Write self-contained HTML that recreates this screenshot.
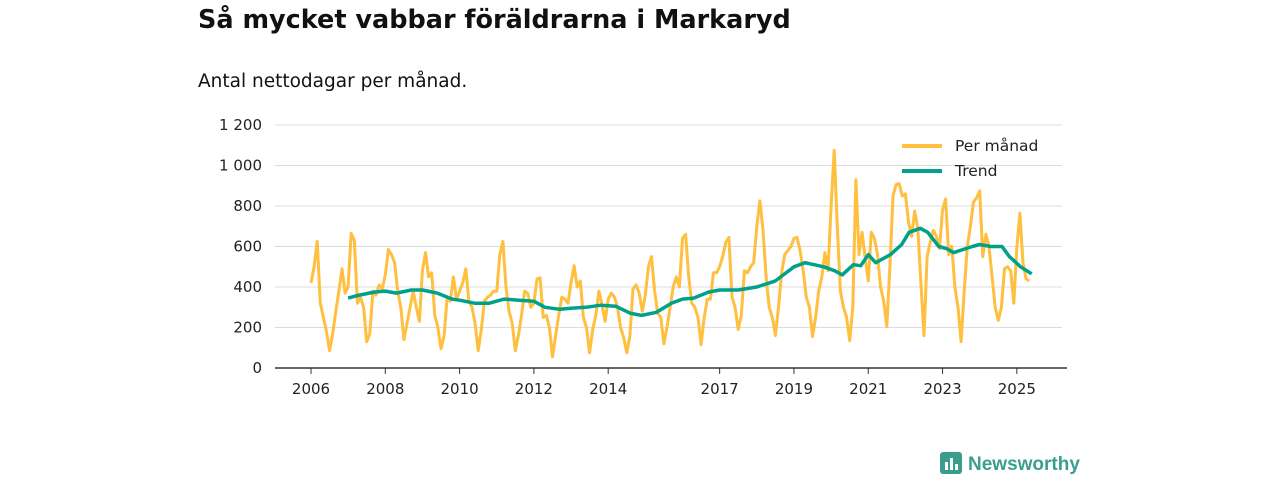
<!DOCTYPE html>
<html><head><meta charset="utf-8"><style>
body{margin:0;background:#fff;font-family:"DejaVu Sans","Liberation Sans",sans-serif;}
#wrap{position:relative;width:1280px;height:480px;overflow:hidden;}
h1{position:absolute;left:198px;top:5px;margin:0;font-size:25.5px;font-weight:bold;color:#111;}
p.sub{position:absolute;left:198px;top:71px;margin:0;font-size:18.5px;color:#111;}
svg text{font-family:"DejaVu Sans","Liberation Sans",sans-serif;}
</style></head><body>
<div id="wrap">
<h1>Så mycket vabbar föräldrarna i Markaryd</h1>
<p class="sub">Antal nettodagar per månad.</p>
<svg id="chart" width="1280" height="480" style="position:absolute;left:0;top:0"></svg>
</div>
<script>
const yTicks=[0,200,400,600,800,1000,1200];
const yTickLabels=["0","200","400","600","800","1 000","1 200"];
const xTickYears=[2006,2008,2010,2012,2014,2017,2019,2021,2023,2025];
const monthly2006=[420,500,625,320,250,180,85,170,280,380,490,370];
const monthly2007=[400,665,630,320,350,300,130,170,380,360,410,390];
const monthly2008=[460,585,560,520,380,300,140,220,300,380,300,230];
const monthly2009=[480,570,450,470,260,200,95,160,350,330,450,340];
const monthly2010=[380,420,490,330,300,220,85,190,330,350,360,380];
const monthly2011=[380,560,625,400,280,220,85,160,260,380,370,300];
const monthly2012=[320,440,445,250,260,200,55,160,260,350,340,320];
const monthly2013=[420,505,400,430,250,200,75,190,260,380,310,230];
const monthly2014=[340,370,350,300,200,150,75,160,390,410,370,280];
const monthly2015=[360,500,550,380,270,250,120,200,300,400,450,400];
const monthly2016=[640,660,450,320,300,250,115,250,340,340,470,470];
const monthly2017=[500,550,620,645,350,300,190,260,480,470,500,520];
const monthly2018=[700,825,680,450,300,250,160,300,470,560,580,600];
const monthly2019=[640,645,580,480,350,300,155,250,380,450,570,480];
const monthly2020=[800,1075,700,380,300,250,135,300,930,560,670,540];
const monthly2021=[430,670,640,560,400,330,205,500,850,905,910,850];
const monthly2022=[860,720,650,775,690,420,160,550,620,680,650,590];
const monthly2023=[780,835,560,600,400,300,130,380,600,700,820,840];
const monthly2024=[875,550,660,600,450,300,235,300,490,500,480,320];
const monthly2025=[600,765,520,440,430];
const trendDates=[2007.0,2007.3,2007.7,2008.0,2008.3,2008.7,2009.0,2009.4,2009.8,2010.0,2010.4,2010.8,2011.2,2011.6,2012.0,2012.3,2012.7,2013.0,2013.4,2013.8,2014.2,2014.6,2014.9,2015.3,2015.7,2016.0,2016.3,2016.7,2017.0,2017.5,2018.0,2018.5,2019.0,2019.3,2019.8,2020.1,2020.3,2020.6,2020.8,2021.0,2021.2,2021.6,2021.9,2022.1,2022.4,2022.6,2022.9,2023.1,2023.3,2023.8,2024.0,2024.3,2024.6,2024.8,2025.1,2025.4];
const trendValues=[345,360,375,380,370,385,385,370,340,335,320,320,340,335,330,300,290,295,300,310,305,270,260,275,320,340,345,375,385,385,400,430,500,520,500,480,460,510,505,560,520,560,610,670,690,670,600,590,570,600,610,600,600,550,500,465];

const NS="http://www.w3.org/2000/svg";
const svg=document.getElementById('chart');
const X0=275,X1=1062,Y0=368,Y1=125;
function xs(t){return 311+(t-2006)*37.15;}
function ys(v){return Y0-(v/1200)*(Y0-Y1);}
function mk(tag,attrs){const e=document.createElementNS(NS,tag);for(const k in attrs)e.setAttribute(k,attrs[k]);svg.appendChild(e);return e;}

yTicks.forEach((v,i)=>{
  if(v>0){const g=mk('line',{x1:X0,x2:X1,y1:ys(v),y2:ys(v),stroke:'#dcdcdc','stroke-width':1});
  
  }
  const t=mk('text',{x:262,y:ys(v)+5,'text-anchor':'end','font-size':15,fill:'#222'});
  t.textContent=yTickLabels[i];
  
  
});
const ax=mk('line',{x1:X0,x2:X1+5,y1:Y0,y2:Y0,stroke:'#333','stroke-width':1.5});


xTickYears.forEach(yr=>{
  const tk=mk('line',{x1:xs(yr),x2:xs(yr),y1:Y0,y2:Y0+6,stroke:'#333','stroke-width':1});
  
  
  const t=mk('text',{x:xs(yr),y:Y0+26,'text-anchor':'middle','font-size':15,fill:'#222'});
  t.textContent=yr;
  
  
});

const years=[monthly2006,monthly2007,monthly2008,monthly2009,monthly2010,monthly2011,monthly2012,monthly2013,monthly2014,monthly2015,monthly2016,monthly2017,monthly2018,monthly2019,monthly2020,monthly2021,monthly2022,monthly2023,monthly2024,monthly2025];
let pts=[];
years.forEach((arr,yi)=>arr.forEach((v,m)=>pts.push(xs(2006+yi+m/12).toFixed(1)+','+ys(v).toFixed(1))));
const ml=mk('polyline',{points:pts.join(' '),fill:'none',stroke:'#ffbf3f','stroke-width':3,'stroke-linejoin':'round'});


const tp=trendDates.map((d,i)=>xs(d).toFixed(1)+','+ys(trendValues[i]).toFixed(1));
const tl=mk('polyline',{points:tp.join(' '),fill:'none',stroke:'#00a08a','stroke-width':3.5,'stroke-linejoin':'round'});



const lg1=mk('line',{x1:902,x2:942,y1:146,y2:146,stroke:'#ffbf3f','stroke-width':4});


const lt1=mk('text',{x:955,y:151,'font-size':15.5,fill:'#222'});lt1.textContent='Per månad';


const lg2=mk('line',{x1:902,x2:942,y1:171,y2:171,stroke:'#00a08a','stroke-width':4});


const lt2=mk('text',{x:955,y:176,'font-size':15.5,fill:'#222'});lt2.textContent='Trend';



const logo=mk('rect',{x:940,y:452,width:22,height:22,rx:3,fill:'#3a9e8f'});


[[945,462,3,8],[950,458,3,12],[955,464,3,6]].forEach(b=>{mk('rect',{x:b[0],y:b[1],width:b[2],height:b[3],fill:'#fff'});});
const lt=mk('text',{x:968,y:470,'font-size':19,fill:'#3a9e8f','font-weight':'bold','style':'font-family:"Liberation Sans",sans-serif'});lt.textContent='Newsworthy';


</script>
</body></html>
